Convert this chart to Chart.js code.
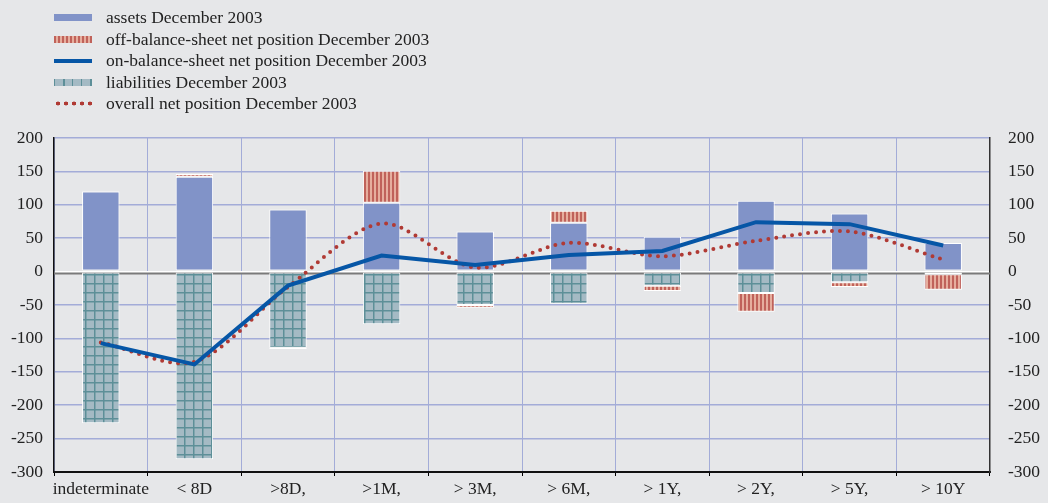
<!DOCTYPE html>
<html lang="en">
<head>
    <meta charset="UTF-8">
    <title>Net position December 2003</title>
    <script src="https://cdn.jsdelivr.net/npm/chart.js"></script>
    <style>
        body {
            margin: 0;
            background: #e6e7e9;
            font-family: 'Liberation Serif', 'Times New Roman', serif;
        }
        #wrap {
            position: relative;
            width: 1048px;
            height: 503px;
        }
        #legend {
            position: absolute;
            left: 54px;
            top: 7px;
            font-size: 17.5px;
            color: #222;
        }
        .row {
            height: 21.5px;
            display: flex;
            align-items: center;
        }
        .sw {
            width: 38px;
            height: 7px;
            margin-right: 14px;
        }
        .assets { background: #8193c8; }
        .off { background: repeating-linear-gradient(90deg, #c0625a 0 2px, #e6ae9e 2px 4px); }
        .on { height: 4px; background: #0656a6; }
        .liab { background: repeating-linear-gradient(90deg, #5d8f98 0 1.5px, #a4bac4 1.5px 9px); }
        .overall { height: 5px; background: radial-gradient(circle, #b03a34 1.8px, transparent 2.2px) 0 0 / 8px 5px repeat-x; }
    </style>
</head>
<body>
<div id="wrap">
    <canvas id="chart" width="1048" height="503"></canvas>
    <div id="legend">
        <div class="row"><div class="sw assets"></div>assets December 2003</div>
        <div class="row"><div class="sw off"></div>off-balance-sheet net position December 2003</div>
        <div class="row"><div class="sw on"></div>on-balance-sheet net position December 2003</div>
        <div class="row"><div class="sw liab"></div>liabilities December 2003</div>
        <div class="row"><div class="sw overall"></div>overall net position December 2003</div>
    </div>
</div>
<script>
    const categories = ['indeterminate', '< 8D', '>8D,', '>1M,', '> 3M,', '> 6M,', '> 1Y,', '> 2Y,', '> 5Y,', '> 10Y'];
    const assets = [120, 142, 93, 103, 60, 73, 52, 106, 87, 43];
    const liabilities = [-227, -281, -114, -79, -50, -48, -21, -32, -16, -4];
    const offBalance = [1, 4, -2, 48, -4, 18, -8, -28, -7, -23];
    const onBalance = [-107, -139, -21, 24, 10, 25, 31, 74, 71, 39];
    const overall = [-106, -135, -23, 72, 6, 43, 23, 46, 60, 18];
    const yTicks = [-300, -250, -200, -150, -100, -50, 0, 50, 100, 150, 200];

    // hatch patterns
    function gridPattern() {
        const c = document.createElement('canvas');
        c.width = 9; c.height = 9;
        const g = c.getContext('2d');
        g.fillStyle = '#a4bac4';
        g.fillRect(0, 0, 9, 9);
        g.fillStyle = '#5d8f98';
        g.fillRect(4, 0, 1.5, 9);
        g.fillRect(0, 4, 9, 1.5);
        return g.createPattern(c, 'repeat');
    }
    function stripePattern() {
        const c = document.createElement('canvas');
        c.width = 4; c.height = 4;
        const g = c.getContext('2d');
        g.fillStyle = '#e6ae9e';
        g.fillRect(0, 0, 4, 4);
        g.fillStyle = '#c0625a';
        g.fillRect(0, 0, 2, 4);
        return g.createPattern(c, 'repeat');
    }

    // grey line just under the white zero line
    const zeroLine = {
        id: 'zeroLine',
        beforeDatasetsDraw(chart) {
            const y = chart.scales.y.getPixelForValue(0);
            const a = chart.chartArea;
            const g = chart.ctx;
            g.save();
            g.strokeStyle = '#7a7a7a';
            g.lineWidth = 2;
            g.beginPath();
            g.moveTo(a.left, y + 2);
            g.lineTo(a.right, y + 2);
            g.stroke();
            g.restore();
        }
    };

    const font = { family: "'Liberation Serif', 'Times New Roman', serif", size: 17.5 };

    const ctx = document.getElementById('chart').getContext('2d');
    new Chart(ctx, {
        type: 'bar',
        data: {
            labels: categories,
            datasets: [
                {
                    type: 'line',
                    label: 'on-balance-sheet net position December 2003',
                    data: onBalance,
                    borderColor: '#0656a6',
                    borderWidth: 4,
                    pointRadius: 0,
                    tension: 0,
                    stack: 'on',
                    order: 0
                },
                {
                    type: 'line',
                    label: 'overall net position December 2003',
                    data: overall,
                    borderColor: '#b03a34',
                    borderWidth: 4,
                    borderDash: [0, 8],
                    borderCapStyle: 'round',
                    pointRadius: 0,
                    tension: 0.3,
                    stack: 'overall',
                    order: 1
                },
                {
                    label: 'assets December 2003',
                    data: assets,
                    backgroundColor: '#8193c8',
                    stack: 'bars',
                    order: 2
                },
                {
                    label: 'liabilities December 2003',
                    data: liabilities,
                    backgroundColor: gridPattern(),
                    stack: 'bars',
                    order: 2
                },
                {
                    label: 'off-balance-sheet net position December 2003',
                    data: offBalance,
                    backgroundColor: stripePattern(),
                    stack: 'bars',
                    order: 2
                }
            ]
        },
        options: {
            responsive: false,
            animation: false,
            layout: { padding: { top: 138, left: 0, right: 0, bottom: 0 } },
            datasets: {
                bar: {
                    borderColor: '#ffffff',
                    borderWidth: 1,
                    borderSkipped: false,
                    barPercentage: 0.4,
                    categoryPercentage: 1
                }
            },
            plugins: {
                legend: { display: false },
                tooltip: { enabled: false }
            },
            scales: {
                x: {
                    stacked: true,
                    afterFit: s => { s.height = 31; },
                    grid: {
                        color: '#a3acd8',
                        lineWidth: 1,
                        tickColor: '#000',
                        tickLength: 4
                    },
                    border: { color: '#111', width: 2 },
                    ticks: { font: font, color: '#222', padding: 3, maxRotation: 0, autoSkip: false }
                },
                y: {
                    stacked: true,
                    min: -300,
                    max: 200,
                    afterFit: s => { s.width = 54; },
                    afterBuildTicks: s => { s.ticks = yTicks.map(v => ({ value: v })); },
                    grid: {
                        drawTicks: false,
                        color: c => c.tick && c.tick.value === 0 ? '#ffffff' : '#a3acd8',
                        lineWidth: c => c.tick && c.tick.value === 0 ? 2 : 1.5
                    },
                    border: { color: '#111', width: 1.5 },
                    ticks: { font: font, color: '#222', padding: 11 }
                },
                y2: {
                    position: 'right',
                    min: -300,
                    max: 200,
                    afterFit: s => { s.width = 58; },
                    afterBuildTicks: s => { s.ticks = yTicks.map(v => ({ value: v })); },
                    grid: { display: false, drawTicks: false },
                    border: { color: '#333', width: 1.5 },
                    ticks: { font: font, color: '#222', padding: 18 }
                }
            }
        },
        plugins: [zeroLine]
    });
</script>
</body>
</html>
